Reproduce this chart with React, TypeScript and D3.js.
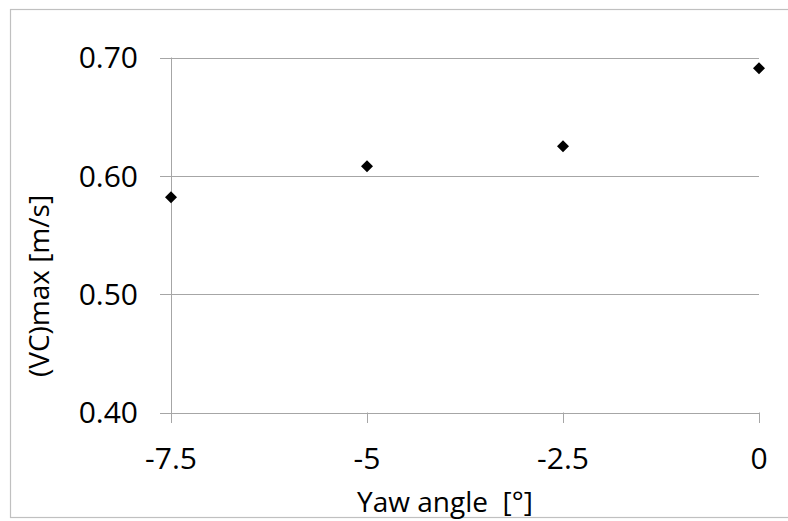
import React from "react";
import * as d3 from "d3";

const yawAngles = [-7.5, -5, -2.5, 0];
const vcMax = [0.582, 0.608, 0.625, 0.691];
const xTicks = [-7.5, -5, -2.5, 0];
const xTickLabels = ["-7.5", "-5", "-2.5", "0"];
const yTicks = [0.4, 0.5, 0.6, 0.7];
const yTickLabels = ["0.40", "0.50", "0.60", "0.70"];

const W = 788;
const H = 521;
const font = "'Open Sans', 'Liberation Sans', sans-serif";

export default function App() {
  const x = d3.scaleLinear().domain([-7.5, 0]).range([171, 759]);
  const y = d3.scaleLinear().domain([0.4, 0.7]).range([412.5, 57.5]);
  const grid = "#a6a6a6";
  const diamond = (cx: number, cy: number, r: number) =>
    `M${cx},${cy - r}L${cx + r},${cy}L${cx},${cy + r}L${cx - r},${cy}Z`;

  return (
    <svg
      width={W}
      height={H}
      style={{ position: "absolute", left: 0, top: 0, background: "#fff" }}
    >
      <rect x={10.5} y={9.5} width={800} height={508} fill="#fff" stroke="#c0c0c0" strokeWidth={1.2} />
      {yTicks.map((t, i) => (
        <g key={"y" + i}>
          <line x1={160} x2={759} y1={Math.round(y(t)) + 0.5} y2={Math.round(y(t)) + 0.5} stroke={grid} strokeWidth={1} />
          <text
            x={138}
            y={y(t) + 10.8}
            textAnchor="end"
            fontFamily={font}
            fontSize={30}
            fill="#000"
          >
            {yTickLabels[i]}
          </text>
        </g>
      ))}
      <line x1={171.5} x2={171.5} y1={y(0.7)} y2={423} stroke={grid} strokeWidth={1} />
      {xTicks.map((t, i) => (
        <g key={"x" + i}>
          <line x1={Math.round(x(t)) + 0.5} x2={Math.round(x(t)) + 0.5} y1={y(0.4)} y2={423} stroke={grid} strokeWidth={1} />
          <text x={x(t)} y={468.5} textAnchor="middle" fontFamily={font} fontSize={30} fill="#000">
            {xTickLabels[i]}
          </text>
        </g>
      ))}
      {yawAngles.map((a, i) => (
        <path key={"p" + i} d={diamond(x(a), y(vcMax[i]), 6)} fill="#000" />
      ))}
      <text
        x={445}
        y={512}
        textAnchor="middle"
        fontFamily={font}
        fontSize={28}
        fill="#000"
        style={{ whiteSpace: "pre" }}
      >
        {"Yaw angle  [°]"}
      </text>
      <text
        transform={`translate(49,286) rotate(-90)`}
        textAnchor="middle"
        fontFamily={font}
        fontSize={28}
        fill="#000"
      >
        (VC)max [m/s]
      </text>
    </svg>
  );
}
